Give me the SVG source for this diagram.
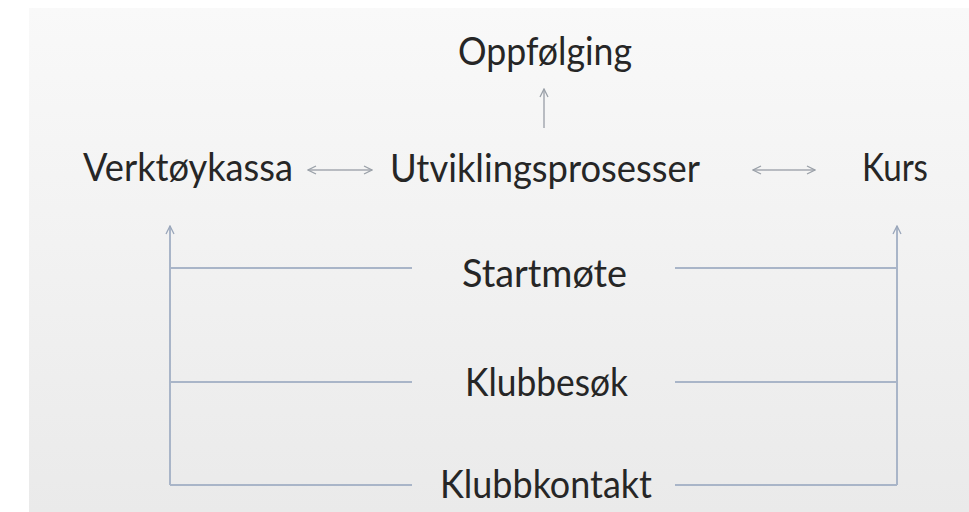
<svg xmlns="http://www.w3.org/2000/svg" width="969" height="512" viewBox="0 0 969 512">
<defs>
<linearGradient id="bg" x1="0" y1="0" x2="0" y2="1">
<stop offset="0" stop-color="#f9f9f9"/>
<stop offset="1" stop-color="#eaeaea"/>
</linearGradient>
<marker id="ah" viewBox="0 0 10 10" refX="9" refY="5" markerWidth="10" markerHeight="10" markerUnits="userSpaceOnUse" orient="auto-start-reverse">
<path d="M1,1 L9,5 L1,9" fill="none" stroke="#9aa0a8" stroke-width="1.3"/>
</marker>
<marker id="ahb" viewBox="0 0 10 10" refX="9" refY="5" markerWidth="10" markerHeight="10" markerUnits="userSpaceOnUse" orient="auto-start-reverse">
<path d="M1,1 L9,5 L1,9" fill="none" stroke="#9aa6ba" stroke-width="1.3"/>
</marker>
</defs>
<style>
.t{font-family:Lato,"Liberation Sans",sans-serif;font-size:39px;fill:#262626}
.a{stroke:#a4a9b0;stroke-width:1.5;fill:none}
.l{stroke:#a9b5c8;stroke-width:2;fill:none}
</style>
<rect x="0" y="0" width="969" height="512" fill="#ffffff"/>
<rect x="29" y="8" width="940" height="504" fill="url(#bg)"/>
<g id="connectors">
<line class="a" x1="544" y1="128" x2="544" y2="89" marker-end="url(#ah)"/>
<line class="a" x1="308" y1="170" x2="372" y2="170" marker-start="url(#ah)" marker-end="url(#ah)"/>
<line class="a" x1="753" y1="170" x2="815" y2="170" marker-start="url(#ah)" marker-end="url(#ah)"/>
<path class="l" d="M170,485 V226" marker-end="url(#ahb)"/>
<path class="l" d="M897,485 V226" marker-end="url(#ahb)"/>
<path class="l" d="M170,268 H412 M675,268 H897"/>
<path class="l" d="M170,382 H412 M675,382 H897"/>
<path class="l" d="M170,485 H412 M675,485 H897"/>
</g>
<g id="oppfolging"><text class="t" x="458" y="65" textLength="174" lengthAdjust="spacingAndGlyphs">Oppfølging</text></g>
<g id="verktoykassa"><text class="t" x="83" y="181" textLength="210" lengthAdjust="spacingAndGlyphs">Verktøykassa</text></g>
<g id="utviklingsprosesser"><text class="t" x="390" y="182" textLength="310" lengthAdjust="spacingAndGlyphs">Utviklingsprosesser</text></g>
<g id="kurs"><text class="t" x="862" y="181" textLength="66" lengthAdjust="spacingAndGlyphs">Kurs</text></g>
<g id="startmote"><text class="t" x="462" y="287" textLength="165" lengthAdjust="spacingAndGlyphs">Startmøte</text></g>
<g id="klubbesok"><text class="t" x="465" y="396" textLength="163" lengthAdjust="spacingAndGlyphs">Klubbesøk</text></g>
<g id="klubbkontakt"><text class="t" x="440" y="498" textLength="212" lengthAdjust="spacingAndGlyphs">Klubbkontakt</text></g>
</svg>
